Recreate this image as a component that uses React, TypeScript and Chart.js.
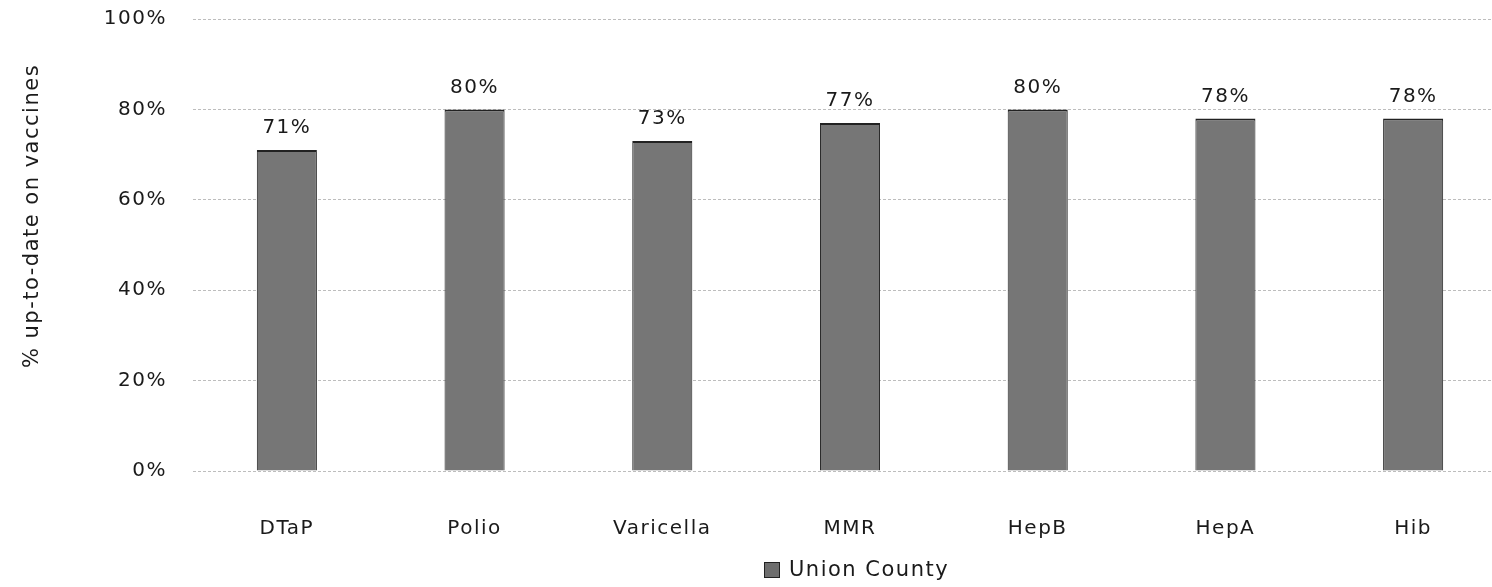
import React, { useEffect, useRef } from "react";
import { Chart, registerables } from "chart.js";

Chart.register(...registerables);

const categories = ["DTaP", "Polio", "Varicella", "MMR", "HepB", "HepA", "Hib"];
const unionCounty = [71, 80, 73, 77, 80, 78, 78];
const yTicks = [0, 20, 40, 60, 80, 100];
const seriesName = "Union County";
const yTitle = "% up-to-date on vaccines";

const FONT = "'DejaVu Sans', sans-serif";
const SPACING = "1.5px";

export default function App() {
  const ref = useRef<HTMLCanvasElement | null>(null);

  useEffect(() => {
    if (!ref.current) return;
    const overlay = {
      id: "overlay",
      beforeUpdate(chart: any) {
        chart.ctx.letterSpacing = SPACING;
      },
      beforeDraw(chart: any) {
        chart.ctx.letterSpacing = SPACING;
      },
      afterDatasetsDraw(chart: any) {
        const ctx = chart.ctx;
        const meta = chart.getDatasetMeta(0);
        ctx.save();
        ctx.letterSpacing = SPACING;
        ctx.fillStyle = "#1a1a1a";
        ctx.font = `20px ${FONT}`;
        ctx.textAlign = "center";
        ctx.textBaseline = "middle";
        meta.data.forEach((bar: any, i: number) => {
          ctx.fillText(unionCounty[i] + "%", bar.x, bar.y - 22);
        });
        // y-axis title
        ctx.save();
        ctx.translate(33, 216);
        ctx.rotate(-Math.PI / 2);
        ctx.font = `21px ${FONT}`;
        ctx.fillText(yTitle, 0, 0);
        ctx.restore();
        // legend
        ctx.fillStyle = "#6e6e6e";
        ctx.fillRect(764, 562, 16, 16);
        ctx.strokeStyle = "#222";
        ctx.lineWidth = 1;
        ctx.strokeRect(764.5, 562.5, 15, 15);
        ctx.fillStyle = "#1a1a1a";
        ctx.textAlign = "left";
        ctx.font = `21px ${FONT}`;
        ctx.fillText(seriesName, 789, 571);
        ctx.restore();
      },
    };

    const chart = new Chart(ref.current, {
      type: "bar",
      data: {
        labels: categories,
        datasets: [
          {
            label: seriesName,
            data: unionCounty,
            backgroundColor: "#767676",
            borderColor: "#222",
            borderWidth: { top: 2, left: 1, right: 1, bottom: 0 },
            barPercentage: 0.64,
            categoryPercentage: 0.5,
          },
        ],
      },
      options: {
        responsive: false,
        animation: false,
        layout: { padding: { top: 19, right: 23, left: 0, bottom: 0 } },
        plugins: {
          legend: { display: false },
          tooltip: { enabled: false },
        },
        scales: {
          x: {
            grid: { display: false, drawTicks: false },
            border: { display: false },
            ticks: {
              color: "#1a1a1a",
              font: { family: FONT, size: 20 },
              padding: 46,
            },
            afterFit(scale: any) {
              scale.height = 116;
            },
          },
          y: {
            min: 0,
            max: 100,
            afterBuildTicks(scale: any) {
              scale.ticks = yTicks.map((v) => ({ value: v }));
            },
            grid: { color: "#bdbdbd", lineWidth: 1, drawTicks: false },
            border: { display: false, dash: [3, 2] },
            ticks: {
              color: "#1a1a1a",
              font: { family: FONT, size: 20 },
              padding: 26,
              callback: (v: any) => v + "%",
            },
            afterFit(scale: any) {
              scale.width = 193;
              scale.paddingTop = 0;
              scale.paddingBottom = 0;
            },
          },
        },
      },
      plugins: [overlay],
    });
    return () => chart.destroy();
  }, []);

  return (
    <div
      style={{
        position: "fixed",
        left: 0,
        top: 0,
        width: 1492,
        height: 587,
        overflow: "hidden",
        background: "#fff",
      }}
    >
      <canvas ref={ref} width={1530} height={587} style={{ display: "block" }} />
    </div>
  );
}
